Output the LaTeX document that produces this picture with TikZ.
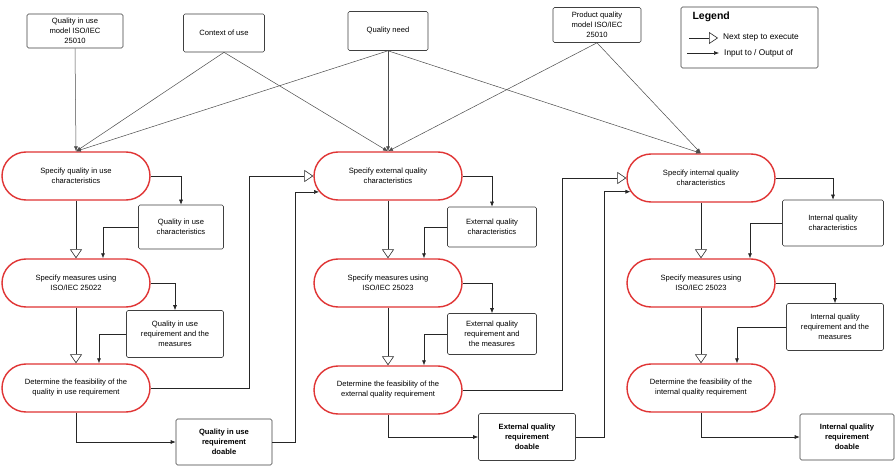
\documentclass[tikz,border=0pt]{standalone}
\usepackage{fontspec}
\setmainfont{Liberation Sans}
\usetikzlibrary{shapes.misc,arrows.meta,calc,positioning}
\definecolor{redline}{RGB}{224,52,52}

\begin{document}
\begin{tikzpicture}[x=1pt,y=-1pt,
    font=\fontsize{7.6}{10}\selectfont,
    activity/.style={rounded rectangle, draw=redline, line width=1.4pt, fill=white,
        minimum width=152pt, minimum height=48pt, align=center, inner sep=2pt},
    datum/.style={rectangle, rounded corners=1.5pt, draw=black!75, line width=0.6pt,
        fill=white, align=center, inner sep=2pt},
    flow/.style={draw=black!85, line width=0.6pt, -{Latex[length=5pt,width=4pt]}},
    nextstep/.style={draw=black!85, line width=0.6pt, -{Triangle[open,length=9pt,width=12pt]}},
    feed/.style={draw=black!70, line width=0.5pt, -{Latex[length=5pt,width=4pt]}}]

    \useasboundingbox[fill=white] (0,0) rectangle (895,476);

    % Sources
    \node[datum, minimum width=96pt, minimum height=34pt] (qiumodel) at (75,31) {Quality in use\\model ISO/IEC\\25010};
    \node[datum, minimum width=81pt, minimum height=38pt] (context) at (224,33) {Context of use};
    \node[datum, minimum width=80pt, minimum height=39pt] (need) at (388,31) {Quality need};
    \node[datum, minimum width=88pt, minimum height=35pt] (pqmodel) at (597,25) {Product quality\\model ISO/IEC\\25010};

    % Activities
    \node[activity] (spec1) at (76,176) {Specify quality in use\\characteristics};
    \node[activity] (meas1) at (76,283) {Specify measures using\\ISO/IEC 25022};
    \node[activity] (det1) at (76,388) {Determine the feasibility of the\\quality in use requirement};
    \node[activity] (spec2) at (388,176) {Specify external quality\\characteristics};
    \node[activity] (meas2) at (388,283) {Specify measures using\\ISO/IEC 25023};
    \node[activity] (det2) at (388,390) {Determine the feasibility of the\\external quality requirement};
    \node[activity] (spec3) at (701,178) {Specify internal quality\\characteristics};
    \node[activity] (meas3) at (701,283) {Specify measures using\\ISO/IEC 25023};
    \node[activity] (det3) at (701,388) {Determine the feasibility of the\\internal quality requirement};

    % Outputs
    \node[datum, minimum width=85pt, minimum height=44pt] (char1) at (181,227) {Quality in use\\characteristics};
    \node[datum, minimum width=97pt, minimum height=47pt] (req1) at (175,334) {Quality in use\\requirement and the\\measures};
    \node[datum, minimum width=96pt, minimum height=46pt, font=\fontsize{7.6}{10}\bfseries] (doable1) at (224,442) {Quality in use\\requirement\\doable};
    \node[datum, minimum width=89pt, minimum height=40pt] (char2) at (492,227) {External quality\\characteristics};
    \node[datum, minimum width=89pt, minimum height=41pt] (req2) at (492,334) {External quality\\requirement and\\the measures};
    \node[datum, minimum width=97pt, minimum height=47pt, font=\fontsize{7.6}{10}\bfseries] (doable2) at (527,437) {External quality\\requirement\\doable};
    \node[datum, minimum width=101pt, minimum height=46pt] (char3) at (833,223) {Internal quality\\characteristics};
    \node[datum, minimum width=97pt, minimum height=47pt] (req3) at (835,327) {Internal quality\\requirement and the\\measures};
    \node[datum, minimum width=94pt, minimum height=46pt, font=\fontsize{7.6}{10}\bfseries] (doable3) at (847,437) {Internal quality\\requirement\\doable};

    % Inputs from the top
    \foreach \src/\dst in {qiumodel/spec1, context/spec1, context/spec2, need/spec1,
                           need/spec2, need/spec3, pqmodel/spec2, pqmodel/spec3}
        \draw[feed] (\src.south) -- (\dst.north);

    % Each column
    \foreach \c/\a/\b in {1/27/23, 2/36/36, 3/49/36} {
        \draw[nextstep] (spec\c.south) -- (meas\c.north);
        \draw[nextstep] (meas\c.south) -- (det\c.north);
        \draw[flow] (spec\c.east) -| (char\c.north);
        \draw[flow] (char\c.west) -| ($(meas\c.north)+(\a,0)$);
        \draw[flow] (meas\c.east) -| (req\c.north);
        \draw[flow] (req\c.west) -| ($(det\c.north)+(\b,0)$);
        \draw[flow] (det\c.south) |- (doable\c.west);
    }

    % Hand over to the next column
    \draw[nextstep] (det1.east) -- ++(99,0) |- (spec2.west);
    \draw[flow] (doable1.east) -- ++(23,0) |- (spec2.193);
    \draw[nextstep] (det2.east) -- ++(100,0) |- (spec3.west);
    \draw[flow] (doable2.east) -- ++(28,0) |- (spec3.191);

    % Legend
    \node[datum, minimum width=137pt, minimum height=61pt] (legend) at (749.5,37.5) {};
    \node[anchor=west, font=\fontsize{10.5}{12}\bfseries] (legendtitle) at (689,17) {Legend};
    \coordinate (stepA) at (689,38);
    \coordinate (stepB) at (718,38);
    \coordinate (flowA) at (687,53);
    \coordinate (flowB) at (719,53);
    \draw[nextstep] (stepA) -- (stepB);
    \draw[flow] (flowA) -- (flowB);
    \node[right=4pt of stepB, font=\fontsize{8.3}{10}\selectfont, inner sep=1pt] (steplabel) {Next step to execute};
    \node[right=4pt of flowB, font=\fontsize{8.3}{10}\selectfont, inner sep=1pt] (flowlabel) {Input to / Output of};
\end{tikzpicture}
\end{document}
